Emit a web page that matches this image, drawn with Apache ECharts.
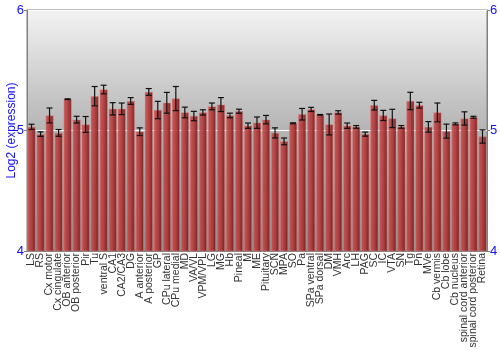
<!DOCTYPE html>
<html><head><meta charset="utf-8">
<script src="https://cdn.jsdelivr.net/npm/echarts@6/dist/echarts.min.js"></script>
<style>html,body{margin:0;padding:0;background:#fff}#c{width:500px;height:350px}</style>
</head><body><div id="c"></div>
<script>
var categories = ["LS","RS","Cx motor","Cx cingulate","OB anterior","OB posterior","Pir","Tu","ventral S","CA1","CA2/CA3","DG","A anterior","A posterior","GP","CPu lateral","CPu medial","MD","VA/VL","VPM/VPL","LG","MG","Hb","Pineal","M","ME","Pituitary","SCN","MPA","SO","Pa","SPa ventral","SPa dorsal","DM","VMH","Arc","LH","PAG","SC","IC","VTA","SN","Tg","Pn","MVe","Cb vermis","Cb lobe","Cb nucleus","spinal cord anterior","spinal cord posterior","Retina"];
var values = [5.03,4.97,5.125,4.98,5.26,5.09,5.05,5.285,5.34,5.18,5.18,5.245,4.99,5.32,5.17,5.23,5.265,5.15,5.12,5.15,5.2,5.215,5.125,5.16,5.04,5.065,5.09,4.98,4.91,5.06,5.135,5.175,5.13,5.05,5.15,5.04,5.03,4.97,5.21,5.125,5.10,5.03,5.245,5.21,5.03,5.15,4.995,5.055,5.10,5.11,4.95];
var errors = [0.022,0.019,0.062,0.028,0.003,0.028,0.066,0.08,0.036,0.051,0.048,0.028,0.032,0.028,0.072,0.086,0.1,0.044,0.039,0.022,0.028,0.058,0.019,0.017,0.022,0.047,0.035,0.042,0.028,0.004,0.048,0.017,0.003,0.087,0.014,0.022,0.011,0.017,0.04,0.042,0.076,0.011,0.072,0.024,0.044,0.078,0.058,0.008,0.055,0.008,0.055];
var yTicks = [4,5,6];

var chart = echarts.init(document.getElementById('c'), null, {renderer:'canvas'});
var errData = values.map(function(v,i){return [i, v-errors[i], v+errors[i]];});
var axisCommon = {
  type:'value', min:yTicks[0], max:yTicks[yTicks.length-1], interval:1,
  axisLine:{show:true, lineStyle:{color:'#808080', width:1}},
  axisTick:{show:true, length:3, lineStyle:{color:'#808080'}},
  axisLabel:{color:'#1010ff', fontSize:13, fontFamily:'Liberation Sans', margin:3},
  splitLine:{show:true, lineStyle:{color:'#ffffff', width:1}}
};
chart.setOption({
  animation:false,
  grid:{left:27, right:13, top:10, bottom:99, containLabel:false, outerBoundsMode:'none',
    show:true, borderColor:'#808080', borderWidth:1,
    backgroundColor:{type:'linear',x:0,y:0,x2:0,y2:1,colorStops:[{offset:0,color:'#f3f3f3'},{offset:0.5,color:'#b4b4b4'},{offset:1,color:'#8c8c8c'}]}},
  xAxis:{type:'category', data:categories,
    axisLine:{show:true, lineStyle:{color:'#808080'}}, axisTick:{show:false},
    axisLabel:{rotate:90, interval:0, fontSize:10.5, color:'#333', fontFamily:'Liberation Sans', margin:2}},
  yAxis:[
    Object.assign({}, axisCommon, {position:'left', name:'Log2 (expression)', nameLocation:'middle', nameGap:9,
      nameMoveOverlap:false,
      nameTextStyle:{color:'#1010ff', fontSize:12, fontFamily:'Liberation Sans'}}),
    Object.assign({}, axisCommon, {position:'right', splitLine:{show:false}})
  ],
  series:[
    {type:'bar', data:values, barCategoryGap:'12%',
      itemStyle:{opacity:0.9, borderColor:'rgba(220,130,130,0.8)', borderWidth:0.6,
        color:{type:'linear',x:0,y:0,x2:1,y2:0,colorStops:[{offset:0,color:'#c85252'},{offset:0.55,color:'#b03434'},{offset:1,color:'#6e1414'}]}}},
    {type:'custom', data:errData, z:5,
      renderItem:function(params, api){
        var x = api.value(0);
        var lo = api.coord([x, api.value(1)]);
        var hi = api.coord([x, api.value(2)]);
        var hw = 3;
        var st = {stroke:'#111', lineWidth:1.2};
        return {type:'group', children:[
          {type:'line', shape:{x1:lo[0],y1:lo[1],x2:hi[0],y2:hi[1]}, style:st},
          {type:'line', shape:{x1:lo[0]-hw,y1:lo[1],x2:lo[0]+hw,y2:lo[1]}, style:st},
          {type:'line', shape:{x1:hi[0]-hw,y1:hi[1],x2:hi[0]+hw,y2:hi[1]}, style:st}
        ]};
      }}
  ]
});
</script></body></html>
